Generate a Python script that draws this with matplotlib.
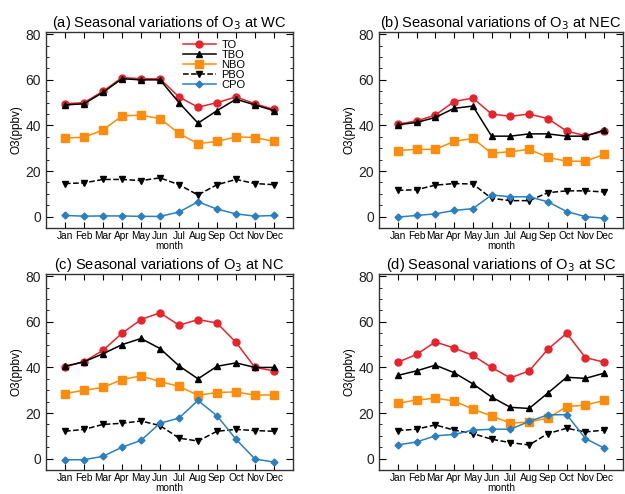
import matplotlib
matplotlib.use("Agg")
import matplotlib.pyplot as plt
from matplotlib.ticker import MultipleLocator

plt.rcParams['font.family'] = ['Liberation Sans', 'DejaVu Sans']

months = ["Jan", "Feb", "Mar", "Apr", "May", "Jun",
          "Jul", "Aug", "Sep", "Oct", "Nov", "Dec"]
sites = ["WC", "NEC", "NC", "SC"]
panel_tags = ["(a)", "(b)", "(c)", "(d)"]
series_names = ["TO", "TBO", "NBO", "PBO", "CPO"]

# WC
wc_to = [49.5, 50, 55, 61, 60.5, 60.5, 52.5, 48, 50, 52.5, 49.5, 47]
wc_tbo = [49, 49.5, 54.5, 60.5, 60, 60, 50, 41, 46.5, 51.5, 49, 46.5]
wc_nbo = [34.5, 34.8, 38, 44.2, 44.5, 43, 36.5, 32, 33, 35, 34.7, 33]
wc_pbo = [14.5, 14.8, 16.3, 16.3, 15.8, 17, 14, 9.5, 14, 16.3, 14.5, 14]
wc_cpo = [0.5, 0.2, 0.3, 0.3, 0.1, 0.1, 2, 6.5, 3.3, 1.2, 0.2, 0.5]

# NEC
nec_to = [40.5, 42, 44.5, 50.5, 52, 45, 44, 45, 43, 37.5, 35.5, 37.5]
nec_tbo = [40.3, 41.3, 43.5, 47.5, 48.5, 35.3, 35.3, 36.3, 36.3, 35.3, 35.3, 38]
nec_nbo = [29, 29.5, 29.5, 33, 34.3, 27.8, 28.5, 29.5, 26, 24.3, 24.3, 27.3]
nec_pbo = [11.5, 11.8, 13.8, 14.5, 14.3, 8, 7, 7, 10.5, 11.3, 11.3, 10.8]
nec_cpo = [-0.2, 0.5, 1.2, 2.7, 3.5, 9.5, 8.7, 8.7, 6.5, 2.2, 0, -0.7]

# NC
nc_to = [40.3, 42.5, 47.5, 55, 61, 64, 58.5, 61, 59.5, 51, 40, 38.5]
nc_tbo = [40.5, 42.5, 46, 50, 52.7, 48.3, 40.7, 35, 40.5, 42, 40, 40]
nc_nbo = [28.5, 30, 31.2, 34.7, 36.3, 33.8, 31.7, 27.8, 29, 29.3, 27.8, 28]
nc_pbo = [12, 12.8, 15, 15.5, 16.5, 14.5, 9, 7.7, 12, 12.8, 12.3, 12]
nc_cpo = [-0.5, -0.5, 1, 5, 8, 15.5, 17.8, 25.5, 18.8, 8.5, -0.2, -1.5]

# SC
sc_to = [42.3, 45.7, 51.2, 48.5, 45.3, 40, 35.4, 38.5, 48, 55, 44.3, 42.3]
sc_tbo = [36.5, 38.5, 41, 37.7, 32.8, 27, 22.5, 22, 28.8, 35.7, 35.2, 37.5]
sc_nbo = [24.3, 25.7, 26.5, 25.3, 21.7, 18.7, 15.6, 16, 17.8, 22.8, 23.5, 25.5]
sc_pbo = [12.3, 12.9, 14.8, 12.5, 11, 8.5, 7, 6, 11, 13.3, 11.7, 12.5]
sc_cpo = [6, 7.3, 10, 10.6, 12.5, 12.9, 12.9, 16.3, 19.2, 19.3, 8.8, 4.6]

data = [
    [wc_to, wc_tbo, wc_nbo, wc_pbo, wc_cpo],
    [nec_to, nec_tbo, nec_nbo, nec_pbo, nec_cpo],
    [nc_to, nc_tbo, nc_nbo, nc_pbo, nc_cpo],
    [sc_to, sc_tbo, sc_nbo, sc_pbo, sc_cpo],
]

styles = [
    dict(color="#e8232b", marker="o", ls="-", ms=5),
    dict(color="black", marker="^", ls="-", ms=5),
    dict(color="#ff8c0a", marker="s", ls="-", ms=6),
    dict(color="black", marker="v", ls="--", ms=5),
    dict(color="#2b7fc0", marker="D", ls="-", ms=3.5),
]

fig = plt.figure(figsize=(6.25, 4.94), dpi=100)
W, H = 625, 494
boxes = [(46, 32, 293, 228), (379, 32, 623, 228),
         (46, 274, 293, 470), (379, 274, 623, 470)]

x = list(range(1, 13))
for i, (l, t, r, b) in enumerate(boxes):
    ax = fig.add_axes([l / W, 1 - b / H, (r - l) / W, (b - t) / H])
    for vals, name, st in zip(data[i], series_names, styles):
        ax.plot(x, vals, label=name, lw=1.1, **st)
    ax.set_xlim(0, 13)
    ax.set_ylim(-5, 81)
    ax.set_xticks(x)
    ax.set_xticklabels(months, fontsize=7.3)
    ax.yaxis.set_major_locator(MultipleLocator(20))
    ax.yaxis.set_minor_locator(MultipleLocator(5))
    ax.tick_params(axis="both", which="both", direction="in", top=True, right=True)
    ax.tick_params(axis="y", which="major", labelsize=10, length=5, labelcolor="#222222")
    ax.tick_params(axis="y", which="minor", length=2.5)
    ax.tick_params(axis="x", which="major", length=4, pad=2)
    ax.set_xlabel("month", fontsize=7.2, labelpad=0.5)
    ax.set_ylabel("O3(ppbv)", fontsize=8.5, labelpad=2)
    for sp in ax.spines.values():
        sp.set_linewidth(1.0)
        sp.set_color("#333333")
    ax.set_title(f"{panel_tags[i]} Seasonal variations of O$_3$ at {sites[i]}",
                 fontsize=10.5, pad=3)
    if i == 0:
        ax.legend(loc="upper right", frameon=False, fontsize=8,
                  handlelength=3, labelspacing=0.0, borderaxespad=0.3,
                  bbox_to_anchor=(0.84, 1.0), handletextpad=0.5)

fig.savefig("out.png", dpi=100)
